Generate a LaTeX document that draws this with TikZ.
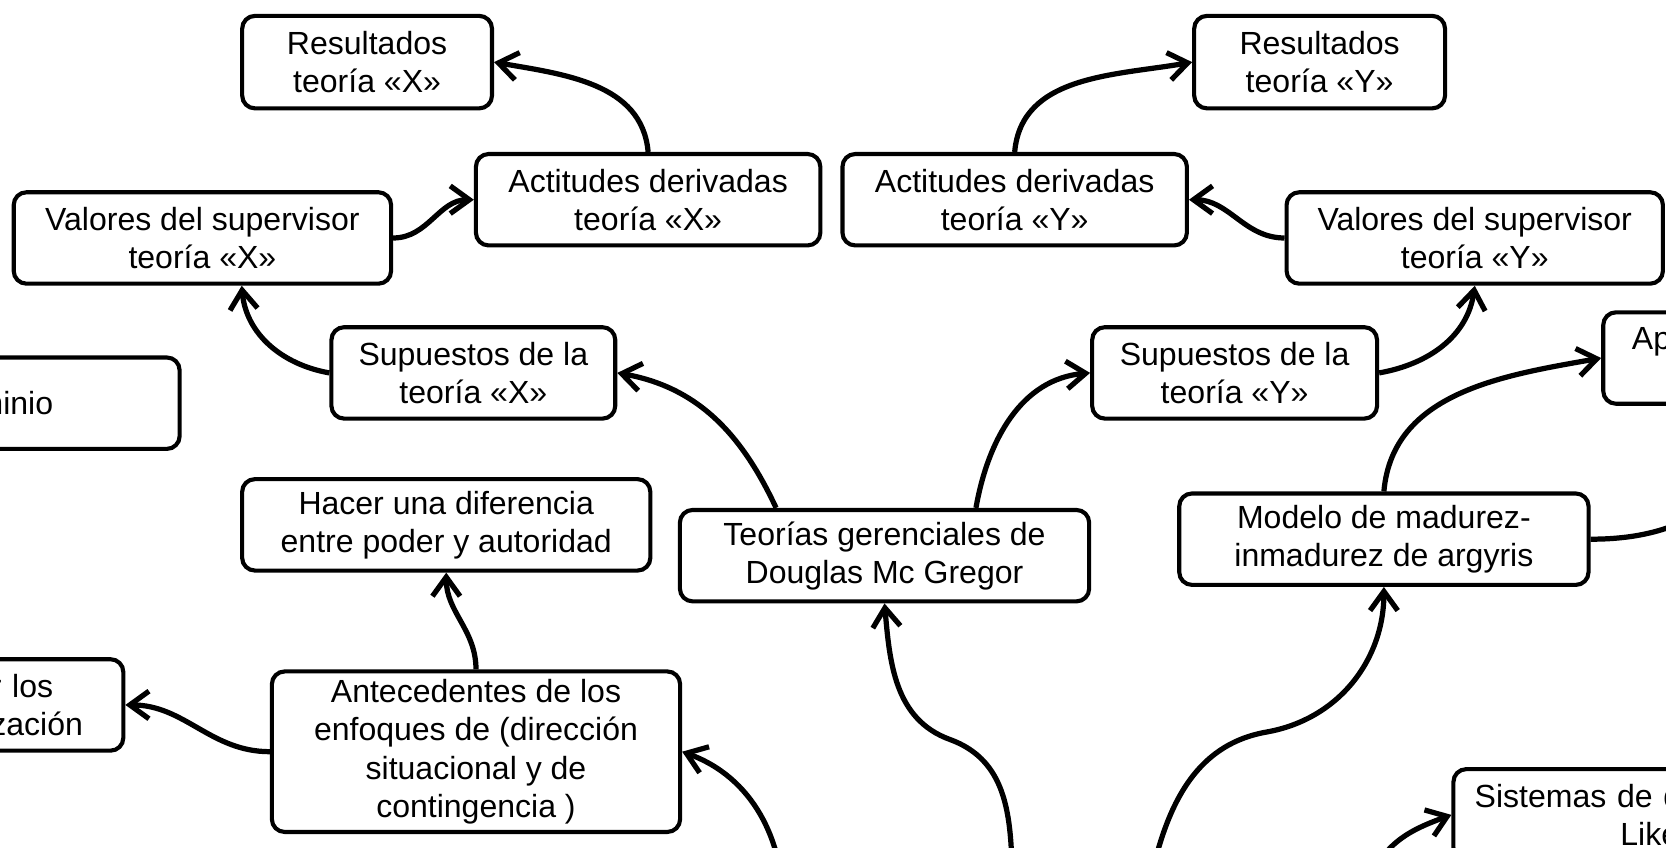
\documentclass[tikz,border=0pt]{standalone}
\usepackage{fontspec}
\setmainfont{Liberation Sans}
\usepackage{xcolor}
\usepackage{tikz}
\usetikzlibrary{arrows.meta}

\begin{document}
\begin{tikzpicture}[x=0.01cm, y=0.01cm,
	idea/.style={draw=black, line width=1.1pt, rounded corners=0.12cm, fill=white, align=center, inner xsep=0.1cm, inner ysep=0.05cm, minimum height=0.86cm, font=\fontsize{8.57pt}{10.2pt}\selectfont},
	link/.style={line width=1.4pt, -{Straight Barb[length=1.8mm,width=2.6mm]}},
	bare/.style={line width=1.4pt}]
	\useasboundingbox (0,0) rectangle (1568,798);
	\clip (0,0) rectangle (1568,798);
	\fill[white] (0,0) rectangle (1568,798);
	% teoria X
	\node[idea, minimum width=2.35cm, minimum height=0.87cm] (resx) at (345.5,739.5) {Resultados\\teoría «X»};
	\node[idea, minimum width=3.24cm] (actx) at (610,610) {Actitudes derivadas\\teoría «X»};
	\node[idea, minimum width=3.55cm] (valx) at (190.5,574) {Valores del supervisor\\teoría «X»};
	\node[idea, minimum width=2.67cm] (supx) at (445.5,447) {Supuestos de la\\teoría «X»};
	% teoria Y
	\node[idea, minimum width=2.36cm, minimum height=0.87cm] (resy) at (1242,739.5) {Resultados\\teoría «Y»};
	\node[idea, minimum width=3.24cm] (acty) at (955,610) {Actitudes derivadas\\teoría «Y»};
	\node[idea, minimum width=3.54cm] (valy) at (1388,574) {Valores del supervisor\\teoría «Y»};
	\node[idea, minimum width=2.68cm] (supy) at (1162,447) {Supuestos de la\\teoría «Y»};
	% centro
	\node[idea, minimum width=3.84cm] (hacer) at (420,304) {Hacer una diferencia\\entre poder y autoridad};
	\node[idea, minimum width=3.85cm] (teorias) at (832.5,275) {Teorías gerenciales de\\Douglas Mc Gregor};
	\node[idea, minimum width=3.84cm, minimum height=1.51cm] (antec) at (448,90.5) {Antecedentes de los\\enfoques de (dirección\\situacional y de\\contingencia )};
	\node[idea, minimum width=3.85cm] (modelo) at (1302.5,290.5) {Modelo de madurez-\\inmadurez de argyris};
	% cortados por el borde
	\node[idea, anchor=east, align=right, text width=2.3cm, inner xsep=1.19cm] (dominio) at (171,418.5) {minio};
	\node[idea, anchor=east, align=right, text width=2cm, inner xsep=0.38cm] (analizar) at (118,134.5) {r los\rule{0.28cm}{0pt}\\zación};
	\node[idea, anchor=west, align=left, text width=2.5cm, inner xsep=0.27cm] (aportes) at (1507,461) {Ap\\\mbox{}};
	\node[idea, anchor=north west, align=left, text width=3.5cm, inner xsep=0.2cm] (sistemas) at (1366,76) {Sistemas de d\\\hspace*{1.37cm}Like};
	\coordinate (derecha) at (1650,350);
	\coordinate (raiza) at (738,-62);
	\coordinate (raizb) at (955,-82);
	\coordinate (pliegueb) at (894,102);
	\coordinate (raizc) at (1075,-70);
	\coordinate (plieguec) at (1192,109);
	\coordinate (raizd) at (1290,-30);
	% conectores
	\draw[link] (actx.north) to[out=95,in=-10] (resx.east);
	\draw[link] (valx.east) to[out=0,in=180] (actx.west);
	\draw[link] (supx.west) to[out=170,in=275] ([xshift=0.37cm]valx.south);
	\draw[link] ([xshift=-1.02cm]teorias.north) to[out=115,in=-10] (supx.east);
	\draw[link] ([xshift=0.86cm]teorias.north) to[out=80,in=185] (supy.west);
	\draw[link] (supy.east) to[out=10,in=262] (valy.south);
	\draw[link] (valy.west) to[out=180,in=0] (acty.east);
	\draw[link] (acty.north) to[out=85,in=190] (resy.west);
	\draw[link] (modelo.north) to[out=85,in=190] (aportes.west);
	\draw[bare] (modelo.east) to[out=0,in=220] (derecha);
	\draw[link] (antec.north) to[out=90,in=-90] (hacer.south);
	\draw[link] (antec.west) to[out=180,in=0] (analizar.east);
	\draw[link] (raiza) to[out=90,in=-20] (antec.east);
	\draw[link] (raizb) to[out=95,in=-20] (pliegueb) to[out=160,in=-85] (teorias.south);
	\draw[link] (raizc) to[out=80,in=190] (plieguec) to[out=10,in=-90] (modelo.south);
	\draw[link] (raizd) to[out=70,in=200] (sistemas.west);
\end{tikzpicture}
\end{document}
